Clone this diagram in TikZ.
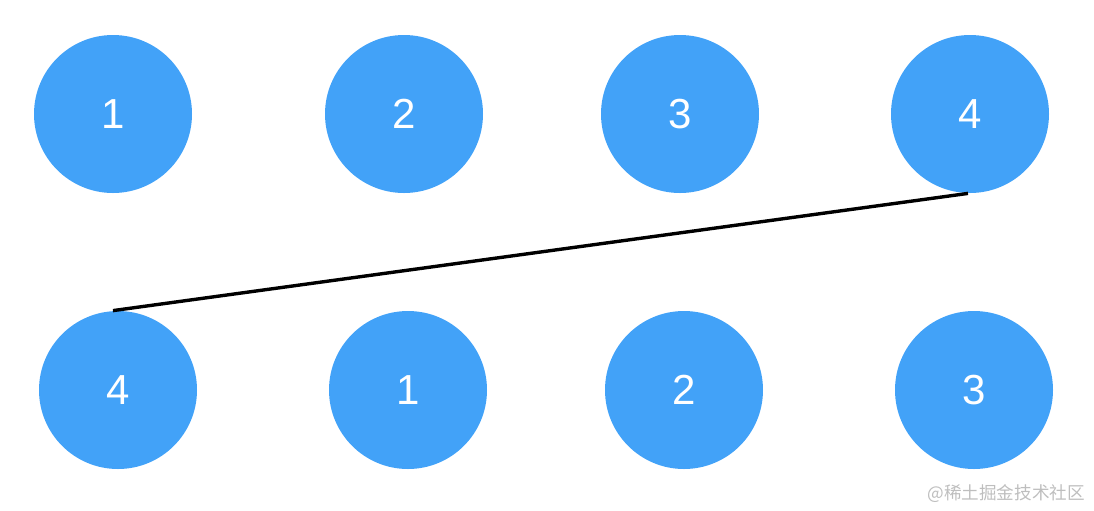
\documentclass[tikz,border=0pt]{standalone}
\usepackage{fontspec}
\setmainfont{Liberation Sans}
\newfontfamily\cjk{Noto Sans CJK SC}
\usetikzlibrary{positioning}
\definecolor{ballblue}{RGB}{66,162,248}
\definecolor{markgray}{RGB}{190,190,190}

\begin{document}
\begin{tikzpicture}[x=0.5pt,y=-0.5pt,
ball/.style={circle,fill=ballblue,minimum size=79pt,inner sep=0pt,
text=white,font=\fontsize{21}{21}\selectfont},
link/.style={line width=1.7pt,black}
]
\useasboundingbox (0,0) rectangle (1094,510);
% first row
\node[ball] (t1) at (113,114) {1};
\node[ball] (t2) at (404,114) {2};
\node[ball] (t3) at (680,114) {3};
\node[ball] (t4) at (970,114) {4};
% second row
\node[ball] (b4) at (118,390) {4};
\node[ball] (b1) at (408,390) {1};
\node[ball] (b2) at (684,390) {2};
\node[ball] (b3) at (974,390) {3};
\draw[link] ([xshift=-2.5pt]b4.north) -- ([xshift=-1pt]t4.south);
\node[text=markgray,font=\cjk\fontsize{8.8}{9}\selectfont,anchor=east] (mark) at (1092,494) {@稀土掘金技术社区};
\end{tikzpicture}
\end{document}
